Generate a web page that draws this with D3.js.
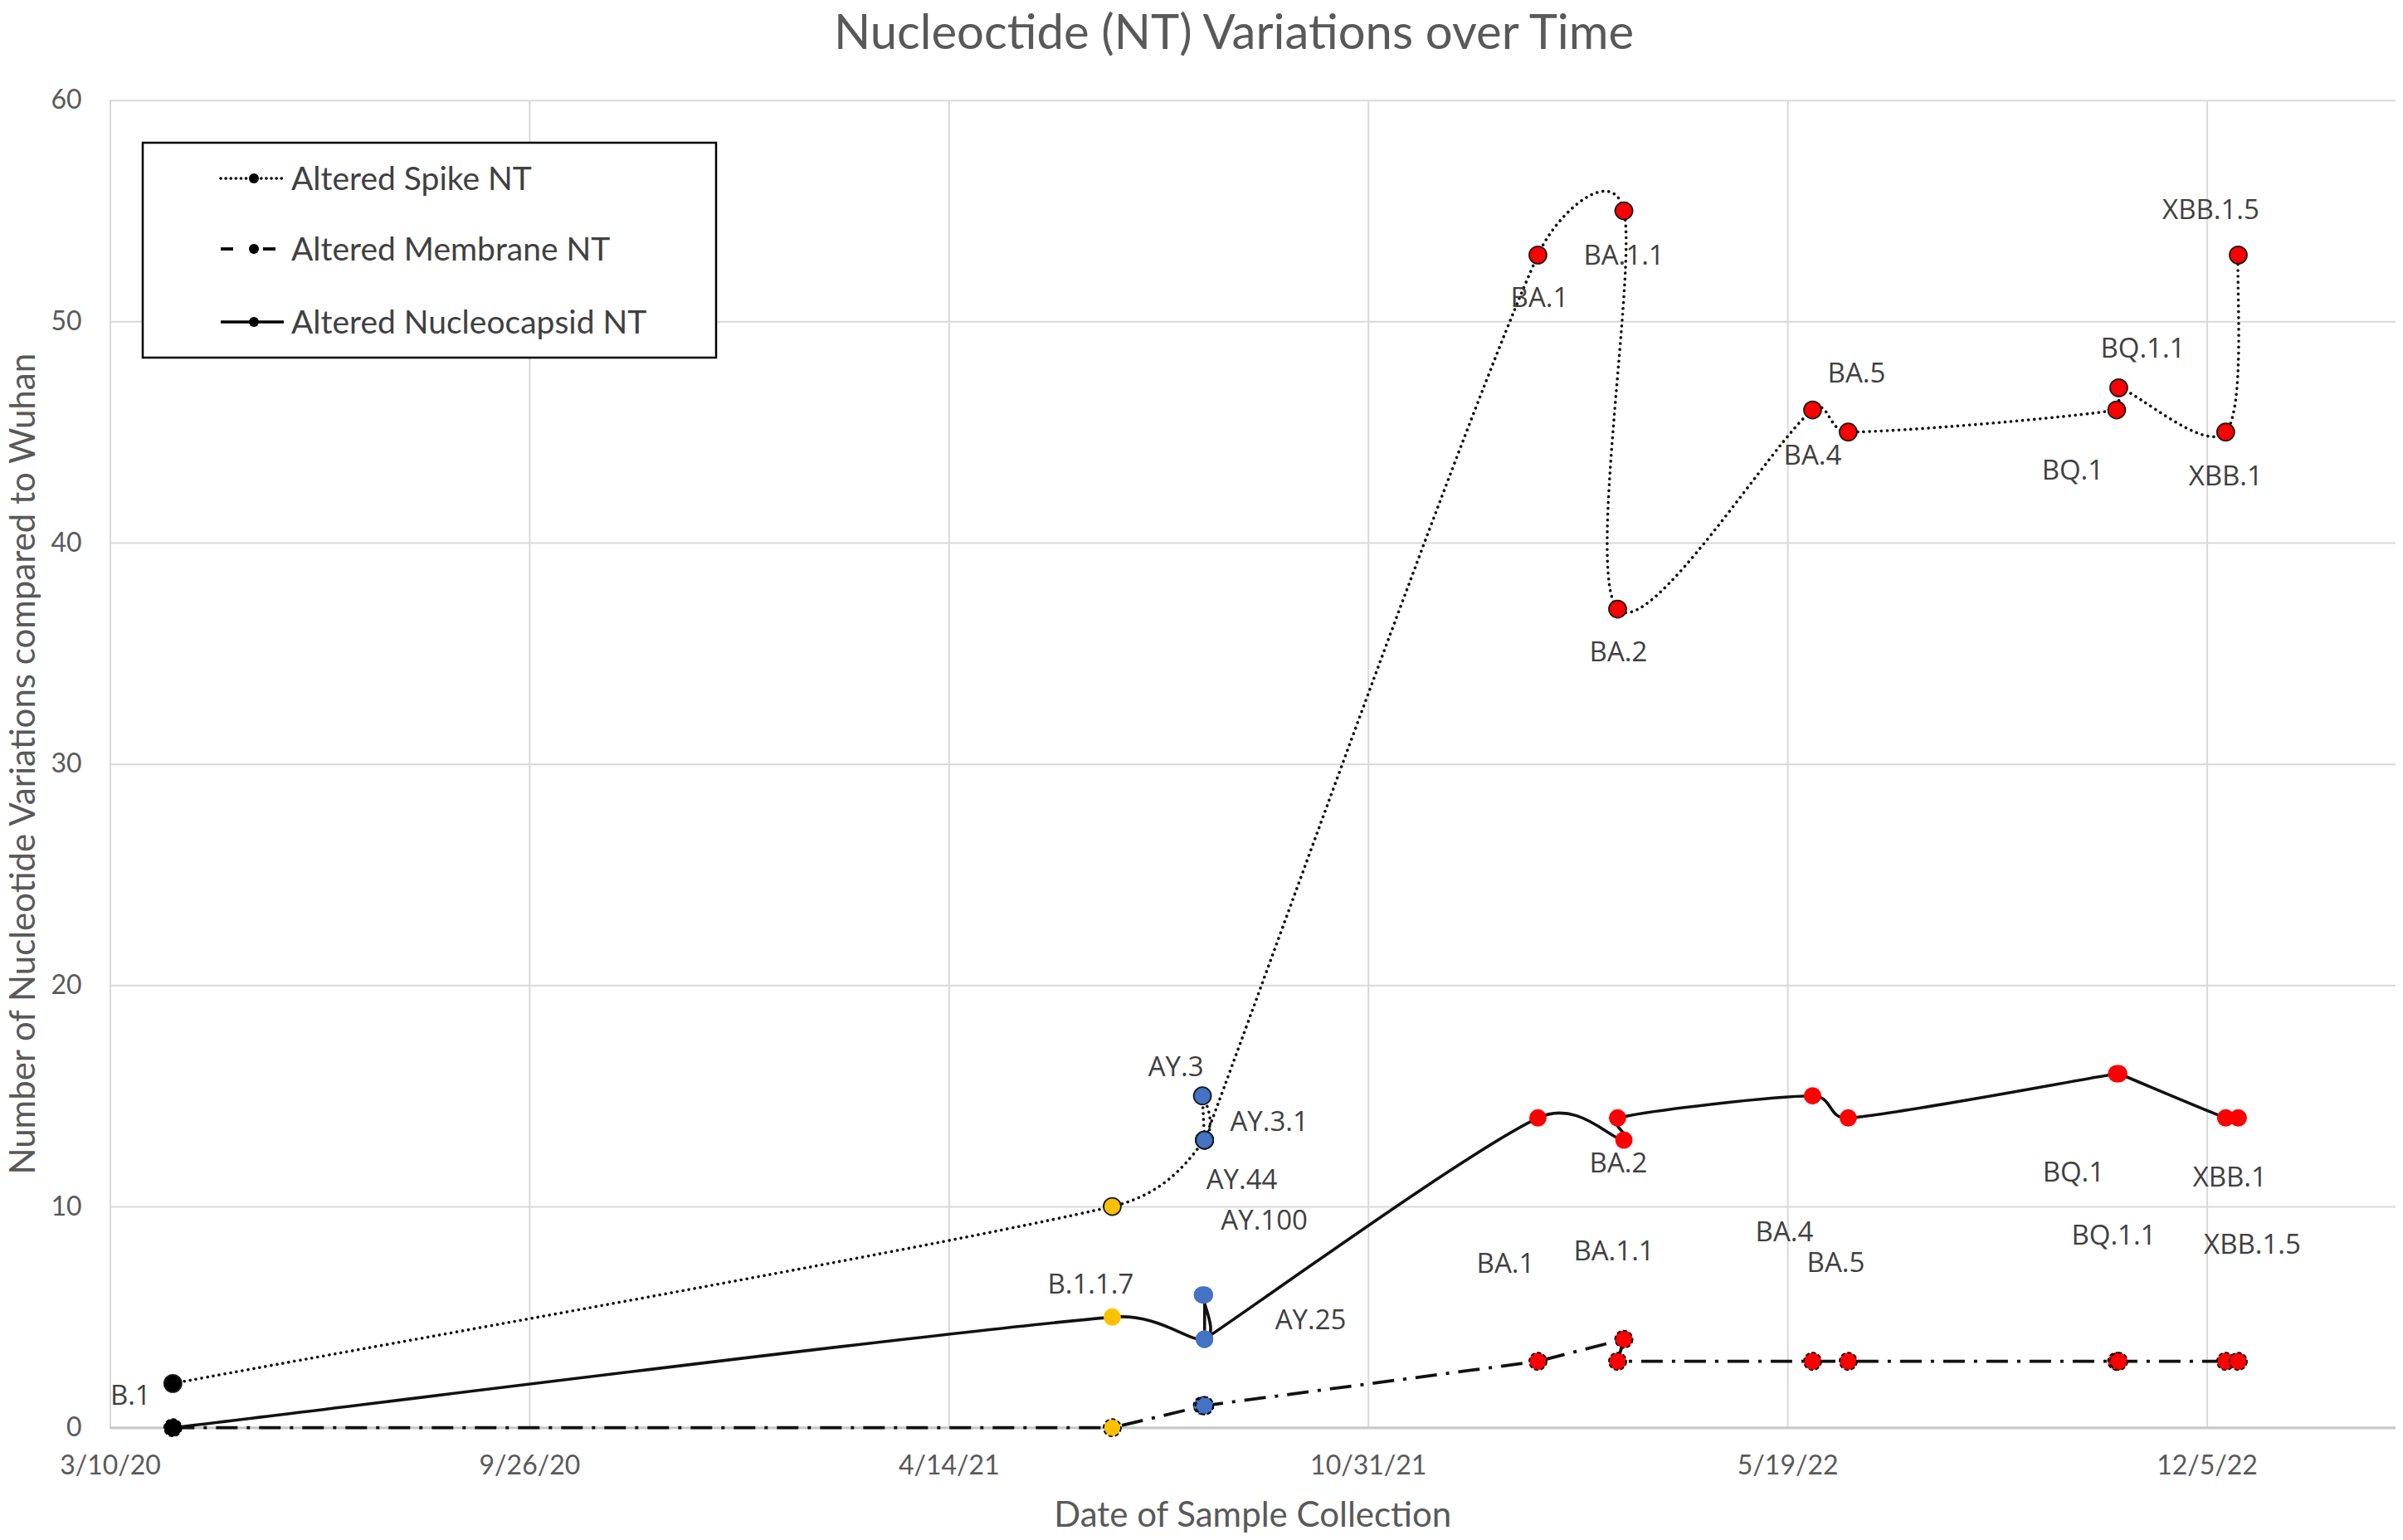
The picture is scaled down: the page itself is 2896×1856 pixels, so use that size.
<!DOCTYPE html>
<html>
<head>
<meta charset="utf-8">
<script src="https://cdnjs.cloudflare.com/ajax/libs/d3/7.8.5/d3.min.js"></script>
<style>
    html, body { margin: 0; padding: 0; background: #fff; }
    svg { display: block; }
    text { font-family: Lato, "Open Sans", sans-serif; }
</style>
</head>
<body>
<div id="chart"></div>
<script>
// Variants in the order they were entered in the sheet (lines follow this order)
const variants = ["B.1", "B.1.1.7", "AY.44", "AY.3", "AY.3.1", "AY.100", "AY.25",
    "BA.1", "BA.1.1", "BA.2", "BA.4", "BA.5", "BQ.1", "BQ.1.1", "XBB.1", "XBB.1.5"];

const sampleDates = ["2020-04-09", "2021-07-01", "2021-08-14", "2021-08-13", "2021-08-14", "2021-08-14", "2021-08-14",
    "2022-01-20", "2022-03-02", "2022-02-27", "2022-05-31", "2022-06-17", "2022-10-23", "2022-10-24", "2022-12-14", "2022-12-20"];

const spikeNT        = [2, 10, 13, 15, 13, 13, 13, 53, 55, 37, 46, 45, 46, 47, 45, 53];
const membraneNT     = [0,  0,  1,  1,  1,  1,  1,  3,  4,  3,  3,  3,  3,  3,  3,  3];
const nucleocapsidNT = [0,  5,  4,  6,  6,  4,  4, 14, 13, 14, 15, 14, 16, 16, 14, 14];

const yTicks = [0, 10, 20, 30, 40, 50, 60];
const xTickLabels = ["3/10/20", "9/26/20", "4/14/21", "10/31/21", "5/19/22", "12/5/22"];
const xDomainEnd = "2023-03-05";

// Variant name annotations: which series point they sit by, and pixel offset
const variantLabels = [
    { variant: "B.1", series: "spike", dx: -51, dy: 14 },
    { variant: "B.1.1.7", series: "nucleocapsid", dx: -26, dy: -40 },
    { variant: "AY.3", series: "spike", dx: -32, dy: -36 },
    { variant: "AY.3.1", series: "spike", dx: 78, dy: -23 },
    { variant: "AY.44", series: "spike", dx: 45, dy: 47 },
    { variant: "AY.100", series: "spike", dx: 72, dy: 96 },
    { variant: "AY.25", series: "nucleocapsid", dx: 128, dy: -24 },
    { variant: "BA.1", series: "spike", dx: 2, dy: 51 },
    { variant: "BA.1.1", series: "spike", dx: 0, dy: 53 },
    { variant: "BA.2", series: "spike", dx: 1, dy: 51 },
    { variant: "BA.4", series: "spike", dx: 0, dy: 54 },
    { variant: "BA.5", series: "spike", dx: 10, dy: -72 },
    { variant: "BQ.1", series: "spike", dx: -53, dy: 72 },
    { variant: "BQ.1.1", series: "spike", dx: 29, dy: -48 },
    { variant: "XBB.1", series: "spike", dx: 0, dy: 52 },
    { variant: "XBB.1.5", series: "spike", dx: -33, dy: -55 },
    { variant: "BA.2", series: "nucleocapsid", dx: 1, dy: 54 },
    { variant: "BA.1", series: "nucleocapsid", dx: -39, dy: 175 },
    { variant: "BA.1.1", series: "nucleocapsid", dx: -12, dy: 133 },
    { variant: "BA.4", series: "nucleocapsid", dx: -34, dy: 163 },
    { variant: "BA.5", series: "nucleocapsid", dx: -15, dy: 174 },
    { variant: "BQ.1", series: "nucleocapsid", dx: -52, dy: 118 },
    { variant: "BQ.1.1", series: "nucleocapsid", dx: -6, dy: 194 },
    { variant: "XBB.1", series: "nucleocapsid", dx: 5, dy: 71 },
    { variant: "XBB.1.5", series: "nucleocapsid", dx: 17, dy: 152 }
];

// marker colour by lineage
function lineageColor(name) {
    if (name === "B.1") return "#000000";
    if (name === "B.1.1.7") return "#FFC000";
    if (name.startsWith("AY")) return "#4472C4";
    return "#FF0000";
}

const parseDate = d3.utcParse("%Y-%m-%d");
const parseTick = d3.utcParse("%m/%d/%y");

// Excel-style smoothing: catmull-rom bezier handles (1/6), each handle capped
// at half the length of its own segment so close points don't loop
function limitVec(v, max) {
    const m = Math.hypot(v[0], v[1]);
    return m > max && m > 0 ? [v[0] * max / m, v[1] * max / m] : v;
}

function ExcelSmooth(context) { this._context = context; }
ExcelSmooth.prototype = {
    areaStart() {}, areaEnd() {},
    lineStart() { this._pts = []; },
    point(px, py) { this._pts.push([+px, +py]); },
    lineEnd() {
        const p = this._pts, n = p.length, ctx = this._context;
        if (!n) return;
        ctx.moveTo(p[0][0], p[0][1]);
        for (let i = 0; i < n - 1; i++) {
            const p0 = p[Math.max(i - 1, 0)], p1 = p[i], p2 = p[i + 1], p3 = p[Math.min(i + 2, n - 1)];
            const seg = Math.hypot(p2[0] - p1[0], p2[1] - p1[1]);
            const h1 = limitVec([(p2[0] - p0[0]) / 6, (p2[1] - p0[1]) / 6], seg / 2);
            const h2 = limitVec([(p3[0] - p1[0]) / 6, (p3[1] - p1[1]) / 6], seg / 2);
            ctx.bezierCurveTo(p1[0] + h1[0], p1[1] + h1[1], p2[0] - h2[0], p2[1] - h2[1], p2[0], p2[1]);
        }
    }
};
const curveExcel = context => new ExcelSmooth(context);

const series = [
    { key: "spike", name: "Altered Spike NT", values: spikeNT, curve: curveExcel,
      dash: "0.1,7", cap: "round", width: 3.6, markerStroke: "#1a1a1a", markerDash: null },
    { key: "membrane", name: "Altered Membrane NT", values: membraneNT, curve: d3.curveLinear,
      dash: "26,11,4,11", cap: "butt", width: 3.8, markerStroke: "#000", markerDash: "5,3" },
    { key: "nucleocapsid", name: "Altered Nucleocapsid NT", values: nucleocapsidNT, curve: curveExcel,
      dash: null, cap: "butt", width: 3.6, markerStroke: "none", markerDash: null }
];

series.forEach(s => {
    s.points = variants.map((v, i) => ({ variant: v, date: parseDate(sampleDates[i]), value: s.values[i] }));
});

// Dimensions
const W = 2896, H = 1856;
const margin = { top: 120.7, right: 9, bottom: 135.3, left: 132.5 };
const width = W - margin.left - margin.right;
const height = H - margin.top - margin.bottom;

const svg = d3.select("#chart").append("svg")
    .attr("width", W)
    .attr("height", H);

svg.append("rect").attr("width", W).attr("height", H).attr("fill", "#fff");

const g = svg.append("g").attr("transform", `translate(${margin.left},${margin.top})`);

const xTicks = xTickLabels.map(parseTick);
const x = d3.scaleUtc()
    .domain([xTicks[0], parseDate(xDomainEnd)])
    .range([0, width]);

const y = d3.scaleLinear()
    .domain([0, 60])
    .range([height, 0]);

// Gridlines
g.append("g")
    .attr("class", "grid-y")
    .call(d3.axisLeft(y).tickValues(yTicks).tickSize(-width).tickFormat(""))
    .call(a => a.select(".domain").remove())
    .call(a => a.selectAll("line").attr("stroke", "#d9d9d9").attr("stroke-width", 2));

g.append("g")
    .attr("class", "grid-x")
    .attr("transform", `translate(0,${height})`)
    .call(d3.axisBottom(x).tickValues(xTicks).tickSize(-height).tickFormat(""))
    .call(a => a.select(".domain").remove())
    .call(a => a.selectAll("line").attr("stroke", "#d9d9d9").attr("stroke-width", 2));

// baseline
g.append("line")
    .attr("x1", 0).attr("x2", width)
    .attr("y1", y(0)).attr("y2", y(0))
    .attr("stroke", "#c8c8c8")
    .attr("stroke-width", 3);

// Tick labels
g.append("g")
    .attr("class", "y-axis")
    .call(d3.axisLeft(y).tickValues(yTicks).tickSize(0).tickPadding(34))
    .call(a => a.select(".domain").remove())
    .call(a => a.selectAll("text")
        .attr("fill", "#595959")
        .style("font-size", "32px"));

g.append("g")
    .attr("class", "x-axis")
    .attr("transform", `translate(0,${height})`)
    .call(d3.axisBottom(x).tickValues(xTicks).tickSize(0).tickPadding(34).tickFormat(d3.utcFormat("%-m/%-d/%y")))
    .call(a => a.select(".domain").remove())
    .call(a => a.selectAll("text")
        .attr("fill", "#595959")
        .style("font-size", "32px"));

// Lines
const lineGen = curve => d3.line()
    .x(d => x(d.date))
    .y(d => y(d.value))
    .curve(curve);

series.forEach(s => {
    g.append("path")
        .datum(s.points)
        .attr("class", `line-${s.key}`)
        .attr("fill", "none")
        .attr("stroke", "#111")
        .attr("stroke-width", s.width)
        .attr("stroke-linecap", s.cap)
        .attr("stroke-dasharray", s.dash)
        .attr("d", lineGen(s.curve));

    g.selectAll(`.marker-${s.key}`)
        .data(s.points)
        .enter()
        .append("circle")
        .attr("class", `marker-${s.key}`)
        .attr("cx", d => x(d.date))
        .attr("cy", d => y(d.value))
        .attr("r", 10.5)
        .attr("fill", d => lineageColor(d.variant))
        .attr("stroke", s.markerStroke)
        .attr("stroke-width", 1.8)
        .attr("stroke-dasharray", s.markerDash);
});

// Variant annotations
const seriesByKey = {};
series.forEach(s => seriesByKey[s.key] = s);

g.selectAll(".variant-label")
    .data(variantLabels)
    .enter()
    .append("text")
    .attr("class", "variant-label")
    .attr("x", d => {
        const i = variants.indexOf(d.variant);
        return x(parseDate(sampleDates[i])) + d.dx;
    })
    .attr("y", d => {
        const i = variants.indexOf(d.variant);
        return y(seriesByKey[d.series].values[i]) + d.dy;
    })
    .attr("dy", "0.36em")
    .attr("text-anchor", "middle")
    .style("font-family", "'Open Sans', sans-serif")
    .style("font-size", "33px")
    .attr("fill", "#404040")
    .text(d => d.variant);

// Title and axis titles
svg.append("text")
    .attr("x", 1487)
    .attr("y", 59)
    .attr("text-anchor", "middle")
    .attr("fill", "#595959")
    .style("font-size", "58px")
    .text("Nucleoctide (NT) Variations over Time");

svg.append("text")
    .attr("x", margin.left + width / 2)
    .attr("y", 1840)
    .attr("text-anchor", "middle")
    .attr("fill", "#595959")
    .style("font-size", "42px")
    .text("Date of Sample Collection");

svg.append("text")
    .attr("transform", `translate(42,${margin.top + height / 2}) rotate(-90)`)
    .attr("text-anchor", "middle")
    .attr("fill", "#595959")
    .style("font-size", "42px")
    .text("Number of Nucleotide Variations compared to Wuhan");

// Legend
const legend = svg.append("g").attr("class", "legend");

legend.append("rect")
    .attr("x", 172).attr("y", 172)
    .attr("width", 691).attr("height", 259)
    .attr("fill", "#fff")
    .attr("stroke", "#000")
    .attr("stroke-width", 2.5);

const legendRows = [215, 300, 388];
series.forEach((s, i) => {
    const row = legend.append("g").attr("transform", `translate(0,${legendRows[i]})`);
    if (s.key === "membrane") {
        row.append("line").attr("x1", 266).attr("x2", 281).attr("y1", 0).attr("y2", 0)
            .attr("stroke", "#000").attr("stroke-width", s.width);
        row.append("line").attr("x1", 317).attr("x2", 332).attr("y1", 0).attr("y2", 0)
            .attr("stroke", "#000").attr("stroke-width", s.width);
    } else {
        row.append("line").attr("x1", 266).attr("x2", 342).attr("y1", 0).attr("y2", 0)
            .attr("stroke", "#000")
            .attr("stroke-width", s.width)
            .attr("stroke-linecap", s.cap)
            .attr("stroke-dasharray", s.dash ? "0.1,6" : null);
    }
    row.append("circle").attr("cx", 306).attr("cy", 0).attr("r", 6).attr("fill", "#000");
    row.append("text")
        .attr("x", 351)
        .attr("y", 0)
        .attr("dy", "0.36em")
        .attr("fill", "#404040")
        .style("font-size", "39px")
        .text(s.name);
});
</script>
</body>
</html>
